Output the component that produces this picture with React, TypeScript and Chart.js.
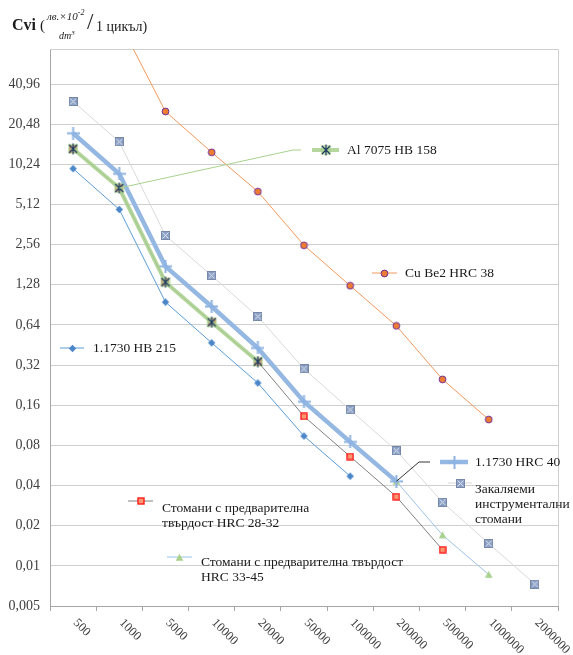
import React, { useEffect, useRef } from 'react';
import { Chart, registerables } from 'chart.js';

Chart.register(...registerables);

// ---- data ----
const categories = ['500', '1000', '5000', '10000', '20000', '50000', '100000', '200000', '500000', '1000000', '2000000'];
const yTickValues = [0.005, 0.01, 0.02, 0.04, 0.08, 0.16, 0.32, 0.64, 1.28, 2.56, 5.12, 10.24, 20.48, 40.96];
const yTickLabels = ['0,005', '0,01', '0,02', '0,04', '0,08', '0,16', '0,32', '0,64', '1,28', '2,56', '5,12', '10,24', '20,48', '40,96'];
const yMin = 0.005;
const yMax = 75;

const hb215 = [9.5, 4.7, 0.95, 0.47, 0.235, 0.094, 0.047, null, null, null, null];
const hrc40 = [17.5, 8.7, 1.76, 0.88, 0.43, 0.17, 0.085, 0.043, null, null, null];
const al7075 = [13.4, 6.8, 1.34, 0.67, 0.34, null, null, null, null, null, null];
const hrc2832 = [13.4, 6.8, 1.34, 0.67, 0.34, 0.132, 0.066, 0.033, 0.0132, null, null];
const hrc3345 = [null, null, null, null, null, null, null, 0.043, 0.017, 0.0086, null];
const cuBe2 = [null, 120, 25.5, 12.6, 6.4, 2.53, 1.26, 0.63, 0.25, 0.125, null];
const toolSteel = [30.3, 15.1, 3.0, 1.5, 0.74, 0.30, 0.148, 0.073, 0.030, 0.0147, 0.0073];

const nameHb215 = ['1.1730 HB 215'];
const nameHrc40 = ['1.1730 HRC 40'];
const nameAl = ['Al 7075 HB 158'];
const nameCu = ['Cu Be2 HRC 38'];
const nameTool = ['Закаляеми', 'инструментални', 'стомани'];
const nameHrc2832 = ['Стомани с предварителна', 'твърдост HRC 28-32'];
const nameHrc3345 = ['Стомани с предварителна твърдост', 'HRC 33-45'];

const FONT = '"Liberation Serif", "Times New Roman", serif';

function makeMarker(size: number, draw: (c: CanvasRenderingContext2D) => void) {
  const cv = document.createElement('canvas');
  cv.width = size;
  cv.height = size;
  const c = cv.getContext('2d') as CanvasRenderingContext2D;
  draw(c);
  return cv;
}

export default function App() {
  const ref = useRef<HTMLCanvasElement | null>(null);

  useEffect(() => {
    if (!ref.current) return;

    const mDiamond = makeMarker(9, (c) => {
      c.beginPath();
      c.moveTo(4.5, 0.8); c.lineTo(8.2, 4.5); c.lineTo(4.5, 8.2); c.lineTo(0.8, 4.5); c.closePath();
      c.fillStyle = '#4A86C8'; c.fill();
    });
    const mPlus = makeMarker(13, (c) => {
      c.strokeStyle = '#8DB3E2'; c.lineWidth = 2;
      c.beginPath();
      c.moveTo(6.5, 0); c.lineTo(6.5, 13);
      c.moveTo(0, 6.5); c.lineTo(13, 6.5);
      c.stroke();
    });
    const mAl = makeMarker(12, (c) => {
      c.fillStyle = 'rgba(169,209,142,0.7)';
      c.fillRect(1, 1, 10, 10);
      c.strokeStyle = '#203864'; c.lineWidth = 1.2;
      c.beginPath();
      c.moveTo(2, 2); c.lineTo(10, 10);
      c.moveTo(10, 2); c.lineTo(2, 10);
      c.moveTo(6, 0.5); c.lineTo(6, 11.5);
      c.stroke();
    });
    const mSquareRed = makeMarker(8, (c) => {
      c.fillStyle = '#F79A74';
      c.fillRect(1, 1, 6, 6);
      c.strokeStyle = '#FF1A1A'; c.lineWidth = 1.4;
      c.strokeRect(1, 1, 6, 6);
    });
    const mTriangle = makeMarker(9, (c) => {
      c.beginPath();
      c.moveTo(4.5, 0.8); c.lineTo(8.3, 7.8); c.lineTo(0.7, 7.8); c.closePath();
      c.fillStyle = '#A9D18E'; c.fill();
    });
    const mCircle = makeMarker(9, (c) => {
      c.beginPath();
      c.arc(4.5, 4.5, 3.4, 0, Math.PI * 2);
      c.fillStyle = '#ED7D31'; c.fill();
      c.strokeStyle = '#7030A0'; c.lineWidth = 1; c.stroke();
    });
    const mBoxX = makeMarker(9, (c) => {
      c.fillStyle = '#8EA2C6';
      c.fillRect(0.5, 0.5, 8, 8);
      c.strokeStyle = '#7688AA'; c.lineWidth = 1;
      c.strokeRect(0.5, 0.5, 8, 8);
      c.strokeStyle = '#DCE3F0'; c.lineWidth = 1;
      c.beginPath();
      c.moveTo(1.5, 1.5); c.lineTo(7.5, 7.5);
      c.moveTo(7.5, 1.5); c.lineTo(1.5, 7.5);
      c.stroke();
    });

    const COL = {
      hb215: '#5B9BD5',
      hrc40: '#95B8E3',
      al: 'rgba(169,209,142,0.85)',
      hrc2832: '#808080',
      hrc3345: '#9DC3E6',
      cu: '#F1995C',
      tool: '#D9D9D9',
    };

    const legends = [
      { key: [60, 84, 348], marker: mDiamond, color: COL.hb215, lw: 1, text: nameHb215, tx: 93, ty: 348 },
      { key: [312, 339, 150], marker: mAl, color: COL.al, lw: 4, text: nameAl, tx: 347, ty: 150 },
      { key: [372, 397, 273], marker: mCircle, color: COL.cu, lw: 1, text: nameCu, tx: 405, ty: 273 },
      { key: [440, 468, 462], marker: mPlus, color: COL.hrc40, lw: 4.5, text: nameHrc40, tx: 475, ty: 462 },
      { key: [448, 472, 483], marker: mBoxX, color: COL.tool, lw: 1, text: nameTool, tx: 475, ty: 489 },
      { key: [128, 153, 501], marker: mSquareRed, color: COL.hrc2832, lw: 1, text: nameHrc2832, tx: 162, ty: 508 },
      { key: [167, 192, 557], marker: mTriangle, color: COL.hrc3345, lw: 1, text: nameHrc3345, tx: 201, ty: 562 },
    ];

    const overlay = {
      id: 'overlay',
      beforeDatasetsDraw(chart: any) {
        const { ctx, chartArea } = chart;
        ctx.save();
        ctx.strokeStyle = '#CFCFCF';
        ctx.lineWidth = 1;
        ctx.beginPath();
        ctx.moveTo(chartArea.left, chartArea.top + 0.5);
        ctx.lineTo(chartArea.right + 0.5, chartArea.top + 0.5);
        ctx.lineTo(chartArea.right + 0.5, chartArea.bottom);
        ctx.stroke();
        ctx.restore();
      },
      afterDraw(chart: any) {
        const { ctx } = chart;
        const xs = chart.scales.x;
        const ys = chart.scales.y;
        ctx.save();
        // x tick labels rotated clockwise 45°
        ctx.font = '12.5px ' + FONT;
        ctx.fillStyle = '#404040';
        ctx.textAlign = 'left';
        ctx.textBaseline = 'middle';
        categories.forEach((lab, i) => {
          const cx = xs.getPixelForValue(i);
          ctx.save();
          ctx.translate(cx + 2, 621);
          ctx.rotate(Math.PI / 4);
          ctx.fillText(lab, 0, 0);
          ctx.restore();
        });

        // leader lines
        ctx.lineWidth = 1;
        ctx.strokeStyle = '#A9D18E';
        ctx.beginPath();
        ctx.moveTo(xs.getPixelForValue(1), ys.getPixelForValue(al7075[1] as number));
        ctx.lineTo(293, 150);
        ctx.lineTo(301, 150);
        ctx.stroke();
        ctx.strokeStyle = '#000000';
        ctx.lineWidth = 0.8;
        ctx.beginPath();
        ctx.moveTo(xs.getPixelForValue(7), ys.getPixelForValue(hrc40[7] as number));
        ctx.lineTo(419, 462);
        ctx.lineTo(430, 462);
        ctx.stroke();

        // legend-like labels
        legends.forEach((l) => {
          ctx.strokeStyle = l.color;
          ctx.lineWidth = l.lw;
          ctx.beginPath();
          ctx.moveTo(l.key[0], l.key[2]);
          ctx.lineTo(l.key[1], l.key[2]);
          ctx.stroke();
          const mx = (l.key[0] + l.key[1]) / 2;
          ctx.drawImage(l.marker, Math.round(mx - l.marker.width / 2), Math.round(l.key[2] - l.marker.height / 2));
          ctx.font = '13.5px ' + FONT;
          ctx.fillStyle = '#1a1a1a';
          ctx.textAlign = 'left';
          ctx.textBaseline = 'middle';
          l.text.forEach((t, j) => ctx.fillText(t, l.tx, l.ty + j * 15));
        });
        ctx.restore();
      },
    };

    const ds = (label: string, data: any[], color: string, width: number, marker: any, order: number, extra: any = {}) => ({
      label,
      data,
      borderColor: color,
      backgroundColor: color,
      borderWidth: width,
      pointStyle: marker,
      pointRadius: 5,
      pointHoverRadius: 5,
      tension: 0,
      spanGaps: false,
      order,
      ...extra,
    });

    const chart = new Chart(ref.current, {
      type: 'line',
      data: {
        labels: categories,
        datasets: [
          ds(nameAl.join(' '), al7075, COL.al, 4, mAl, 0),
          ds(nameHrc2832.join(' '), hrc2832, COL.hrc2832, 1, mSquareRed, 1),
          ds(nameHrc40.join(' '), hrc40, COL.hrc40, 4.5, mPlus, 2),
          ds(nameHrc3345.join(' '), hrc3345, COL.hrc3345, 1, mTriangle, 3),
          ds(nameHb215.join(' '), hb215, COL.hb215, 1, mDiamond, 4),
          ds(nameCu.join(' '), cuBe2, COL.cu, 1, mCircle, 5, { clip: 0 }),
          ds(nameTool.join(' '), toolSteel, COL.tool, 1, mBoxX, 6),
        ],
      },
      options: {
        responsive: false,
        animation: false,
        events: [],
        layout: { padding: { left: 0, right: 15, top: 49, bottom: 0 } },
        plugins: { legend: { display: false }, tooltip: { enabled: false } },
        scales: {
          x: {
            type: 'category',
            offset: true,
            grid: { offset: true, drawOnChartArea: false, drawTicks: true, tickLength: 5, color: '#A6A6A6' },
            border: { color: '#A6A6A6', width: 1 },
            ticks: { display: false },
            afterFit: (s: any) => { s.height = 49; },
          },
          y: {
            type: 'logarithmic',
            min: yMin,
            max: yMax,
            afterBuildTicks: (s: any) => { s.ticks = yTickValues.map((v) => ({ value: v })); },
            ticks: {
              autoSkip: false,
              callback: (_v: any, i: number) => yTickLabels[i],
              font: { family: FONT, size: 14 },
              color: '#404040',
              padding: 10,
            },
            grid: { color: '#CFCFCF', drawTicks: false, lineWidth: 1 },
            border: { color: '#A6A6A6', width: 1 },
            afterFit: (s: any) => { s.width = 50; },
          },
        },
      } as any,
      plugins: [overlay],
    });
    return () => chart.destroy();
  }, []);

  const serif = FONT;
  return (
    <div style={{ position: 'absolute', left: 0, top: 0, width: 573, height: 655, background: '#fff' }}>
      <canvas ref={ref} width={573} height={655} style={{ display: 'block' }} />
      <div style={{ position: 'absolute', left: 12, top: 16, fontFamily: serif, fontSize: 16, fontWeight: 'bold', color: '#1a1a1a', lineHeight: '18px' }}>Cvi</div>
      <div style={{ position: 'absolute', left: 40, top: 17, fontFamily: serif, fontSize: 15, color: '#1a1a1a', lineHeight: '17px' }}>(</div>
      <div style={{ position: 'absolute', left: 47, top: 6, fontFamily: serif, fontSize: 11, fontStyle: 'italic', color: '#1a1a1a', whiteSpace: 'nowrap', lineHeight: '13px' }}>
        лв.×10<sup style={{ fontSize: 8 }}>-2</sup>
      </div>
      <div style={{ position: 'absolute', left: 59, top: 27, fontFamily: serif, fontSize: 10, fontStyle: 'italic', color: '#1a1a1a', whiteSpace: 'nowrap', lineHeight: '12px' }}>
        dm<sup style={{ fontSize: 7 }}>3</sup>
      </div>
      <div style={{ position: 'absolute', left: 87, top: 9, fontFamily: serif, fontSize: 23, color: '#1a1a1a', lineHeight: '26px' }}>/</div>
      <div style={{ position: 'absolute', left: 96, top: 19, fontFamily: serif, fontSize: 14, color: '#1a1a1a', whiteSpace: 'nowrap', lineHeight: '16px' }}>1 цикъл)</div>
    </div>
  );
}
